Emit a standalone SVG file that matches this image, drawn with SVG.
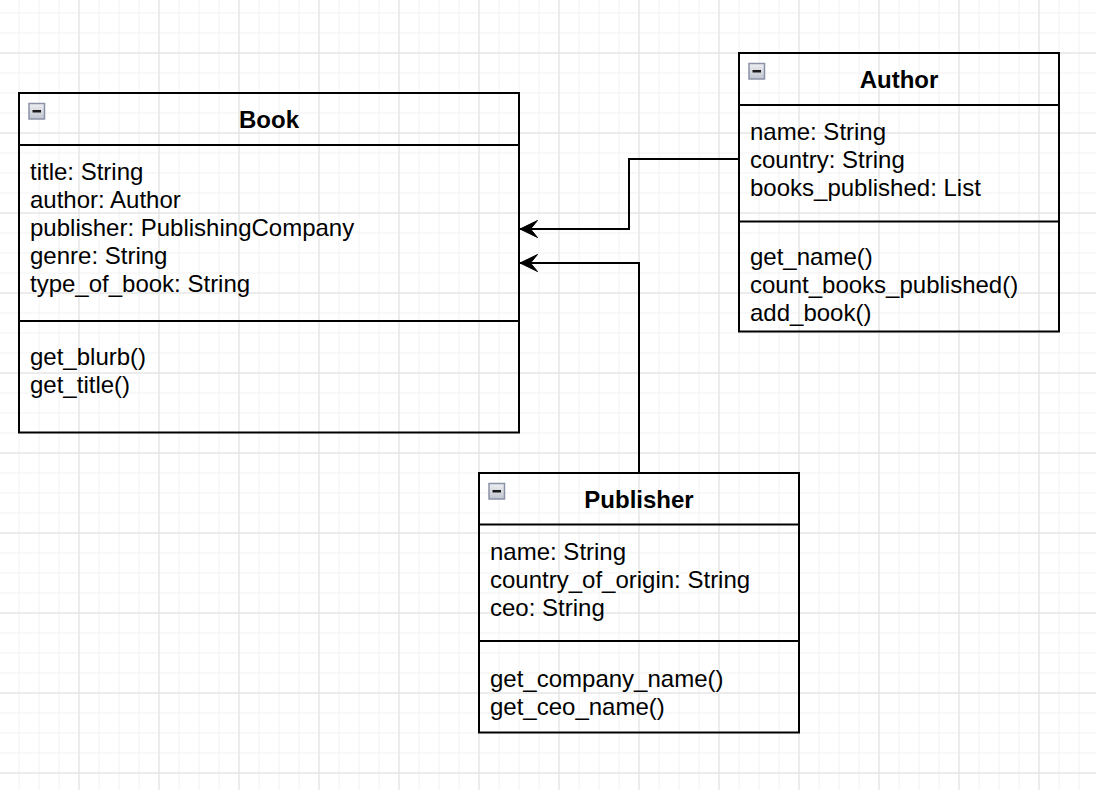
<svg xmlns="http://www.w3.org/2000/svg" width="1096" height="790" viewBox="0 0 1096 790">
<style>
.minor{stroke:#f2f2f2;stroke-width:1}
.major{stroke:#e6e6e6;stroke-width:1.5}
.box{fill:none;stroke:#000;stroke-width:2}
.sep{stroke:#000;stroke-width:2}
.title{font-family:"Liberation Sans",Arial,Helvetica,sans-serif;font-size:24px;font-weight:bold;fill:#000;text-anchor:middle}
.txt{font-family:"Liberation Sans",Arial,Helvetica,sans-serif;font-size:24px;fill:#000}
.icon{fill:url(#ig);stroke:#8a93a6;stroke-width:1.5}
.minus{stroke:#1a1a1a;stroke-width:2.5}
.conn{fill:none;stroke:#000;stroke-width:2}
</style>
<defs>
<linearGradient id="ig" x1="0" y1="0" x2="0" y2="1">
<stop offset="0" stop-color="#eef0f3"/>
<stop offset="1" stop-color="#bfc3cc"/>
</linearGradient>
<marker id="arr" markerUnits="userSpaceOnUse" markerWidth="20" markerHeight="20" viewBox="-18 -9 20 18" refX="0" refY="0" orient="auto">
<path d="M0,0 L-17.5,-8.5 L-10.5,0 L-17.5,8.5 Z" fill="#000" stroke="#000" stroke-width="1"/>
</marker>
</defs>
<rect width="1096" height="790" fill="#fff"/>
<g id="grid">
<path class="minor" d="M19,0V790M39,0V790M59,0V790M99,0V790M119,0V790M139,0V790M179,0V790M199,0V790M219,0V790M259,0V790M279,0V790M299,0V790M339,0V790M359,0V790M379,0V790M419,0V790M439,0V790M459,0V790M499,0V790M519,0V790M539,0V790M579,0V790M599,0V790M619,0V790M659,0V790M679,0V790M699,0V790M739,0V790M759,0V790M779,0V790M819,0V790M839,0V790M859,0V790M899,0V790M919,0V790M939,0V790M979,0V790M999,0V790M1019,0V790M1059,0V790M1079,0V790"/>
<path class="minor" d="M0,13H1096M0,33H1096M0,73H1096M0,93H1096M0,113H1096M0,153H1096M0,173H1096M0,193H1096M0,233H1096M0,253H1096M0,273H1096M0,313H1096M0,333H1096M0,353H1096M0,393H1096M0,413H1096M0,433H1096M0,473H1096M0,493H1096M0,513H1096M0,553H1096M0,573H1096M0,593H1096M0,633H1096M0,653H1096M0,673H1096M0,713H1096M0,733H1096M0,753H1096"/>
<path class="major" d="M79,0V790M159,0V790M239,0V790M319,0V790M399,0V790M479,0V790M559,0V790M639,0V790M719,0V790M799,0V790M879,0V790M959,0V790M1039,0V790"/>
<path class="major" d="M0,53H1096M0,133H1096M0,213H1096M0,293H1096M0,373H1096M0,453H1096M0,533H1096M0,613H1096M0,693H1096M0,773H1096"/>
</g>
<g id="connectors">
<path class="conn" d="M739,159H629V229H520" marker-end="url(#arr)"/>
<path class="conn" d="M639,473V263H520" marker-end="url(#arr)"/>
</g>
<g id="book">
<rect class="box" x="19" y="93" width="500" height="339.5"/>
<line class="sep" x1="19" y1="145" x2="519" y2="145"/>
<line class="sep" x1="19" y1="321" x2="519" y2="321"/>
<rect class="icon" x="29" y="103.5" width="15.5" height="15.5"/>
<line class="minus" x1="32.5" y1="111.25" x2="41" y2="111.25"/>
<text class="title" x="269" y="128">Book</text>
<text class="txt" x="30" y="179.5">title: String</text>
<text class="txt" x="30" y="207.5">author: Author</text>
<text class="txt" x="30" y="235.5">publisher: PublishingCompany</text>
<text class="txt" x="30" y="263.5">genre: String</text>
<text class="txt" x="30" y="291.5">type_of_book: String</text>
<text class="txt" x="30" y="365">get_blurb()</text>
<text class="txt" x="30" y="393">get_title()</text>
</g>
<g id="author">
<rect class="box" x="739" y="53" width="320" height="278.5"/>
<line class="sep" x1="739" y1="105" x2="1059" y2="105"/>
<line class="sep" x1="739" y1="221.5" x2="1059" y2="221.5"/>
<rect class="icon" x="749" y="63.5" width="15.5" height="15.5"/>
<line class="minus" x1="752.5" y1="71.25" x2="761" y2="71.25"/>
<text class="title" x="899" y="87.5">Author</text>
<text class="txt" x="750" y="140">name: String</text>
<text class="txt" x="750" y="168">country: String</text>
<text class="txt" x="750" y="196">books_published: List</text>
<text class="txt" x="750" y="265">get_name()</text>
<text class="txt" x="750" y="293">count_books_published()</text>
<text class="txt" x="750" y="321">add_book()</text>
</g>
<g id="publisher">
<rect class="box" x="479" y="473" width="320" height="259.5"/>
<line class="sep" x1="479" y1="524.5" x2="799" y2="524.5"/>
<line class="sep" x1="479" y1="641" x2="799" y2="641"/>
<rect class="icon" x="489" y="483.5" width="15.5" height="15.5"/>
<line class="minus" x1="492.5" y1="491.25" x2="501" y2="491.25"/>
<text class="title" x="639" y="507.5">Publisher</text>
<text class="txt" x="490" y="560">name: String</text>
<text class="txt" x="490" y="588">country_of_origin: String</text>
<text class="txt" x="490" y="616">ceo: String</text>
<text class="txt" x="490" y="687">get_company_name()</text>
<text class="txt" x="490" y="714.5">get_ceo_name()</text>
</g>
</svg>
